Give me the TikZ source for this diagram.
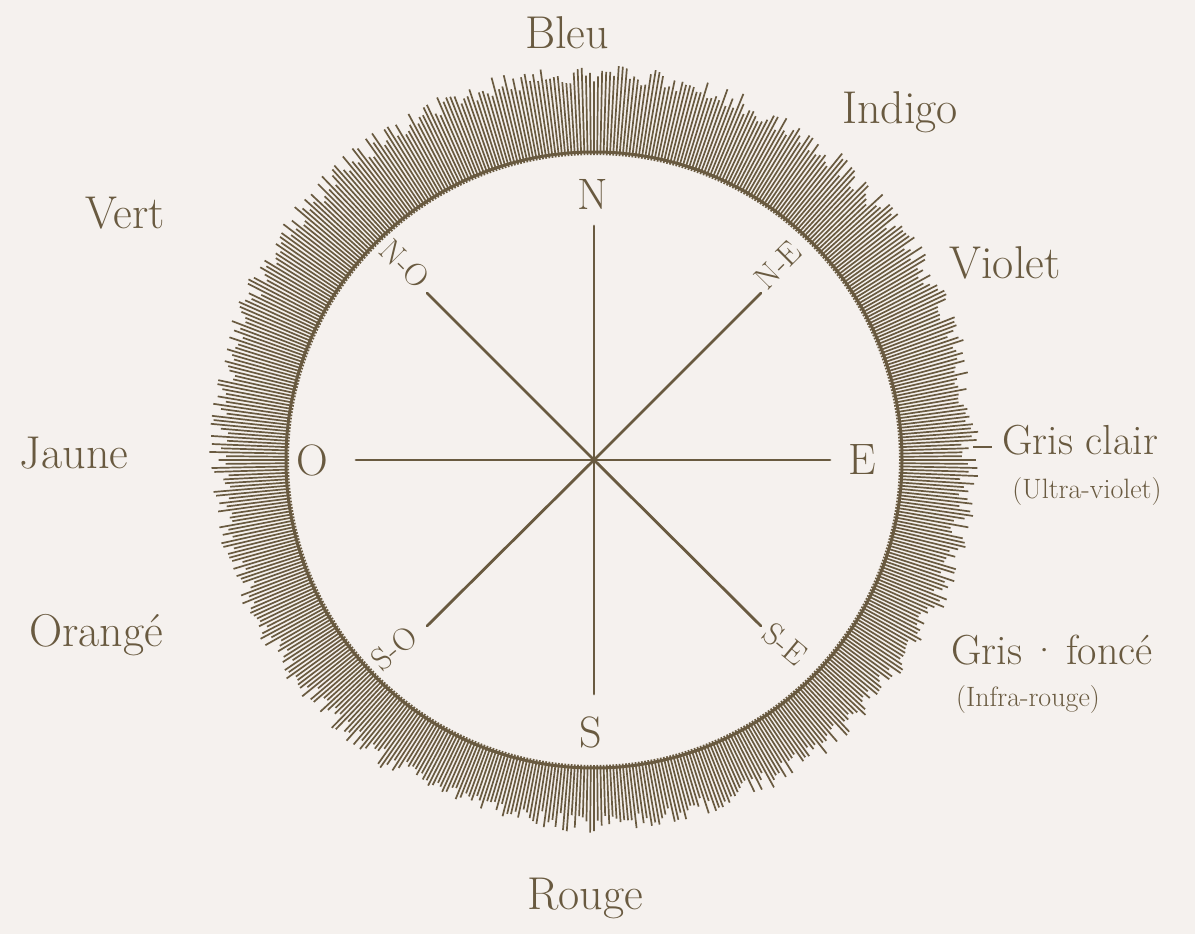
\documentclass[tikz,border=0pt]{standalone}
\usepackage{fontspec}
\definecolor{bg}{RGB}{245,241,238}
\definecolor{ink}{RGB}{105,90,64}
\begin{document}
\begin{tikzpicture}[x=1pt,y=-1pt,
  lab/.style={text=ink, font=\fontsize{46}{52}\selectfont, inner sep=0pt},
  labm/.style={text=ink, font=\fontsize{42}{48}\selectfont, inner sep=0pt},
  small/.style={text=ink, font=\fontsize{28}{32}\selectfont, inner sep=0pt},
  dirbig/.style={text=ink, font=\fontsize{44}{50}\selectfont, inner sep=0pt},
  dirsm/.style={text=ink, font=\fontsize{32}{38}\selectfont, inner sep=0pt},
  ray/.style={draw=ink, line width=2.8pt, line cap=round},
  hair/.style={draw=ink, line width=1.7pt},
  ringstyle/.style={circle, draw=ink, line width=3pt, minimum size=616pt, inner sep=0pt}]
\fill[bg] (0,0) rectangle (1195,934);
\useasboundingbox (0,0) rectangle (1195,934);

% fringe of radial hairs
\pgfmathsetseed{7}
\foreach \i in {0,...,599}{
  \pgfmathsetmacro\a{\i*0.6}
  \pgfmathsetmacro\L{60+12*sin(\a)+20*rnd}
  \draw[hair] ({594+305*cos(\a)},{460-305*sin(\a)}) -- ({594+(305+\L)*cos(\a)},{460-(305+\L)*sin(\a)});
}

\coordinate (c) at (594,460);
\node[ringstyle] (ring) at (c) {};

% rays
\coordinate (rN) at (594,226);
\coordinate (rS) at (594,694);
\coordinate (rE) at (830,460);
\coordinate (rO) at (356,460);
\coordinate (rNE) at (761,293);
\coordinate (rNO) at (427,293);
\coordinate (rSE) at (761,626);
\coordinate (rSO) at (427,626);
\foreach \r in {rN,rS,rE,rO,rNE,rNO,rSE,rSO}{\draw[ray] (c) -- (\r);}

% compass labels
\node[dirbig] (N) at (593,194) {N};
\node[dirbig] (S) at (591,732) {S};
\node[dirbig] (E) at (862,460) {E};
\node[dirbig] (O) at (312,460) {O};
\node[dirsm, rotate=-45] (NO) at (405,264) {N-O};
\node[dirsm, rotate=45] (NE) at (778,265) {N-E};
\node[dirsm, rotate=40] (SO) at (394,648) {S-O};
\node[dirsm, rotate=-40] (SE) at (785,644) {S-E};

% colour labels
\node[lab] (bleu) at (567,33) {Bleu};
\node[lab] (indigo) at (900,112) {Indigo};
\node[lab] (violet) at (1005,263) {Violet};
\node[labm, anchor=west] (grisclair) at (1002,440) {Gris clair};
\coordinate (tick) at (973,447);
\coordinate (tickend) at (992,447);
\draw[ink, line width=2pt] (tick) -- (tickend);
\node[small] (uv) at (1087,492) {(Ultra-violet)};
\node[labm] (grisfonce) at (1052,650) {Gris\,·\,foncé};
\node[small] (ir) at (1028,700) {(Infra-rouge)};
\node[lab] (rouge) at (585,898) {Rouge};
\node[lab] (orange) at (96,635) {Orangé};
\node[lab] (jaune) at (74,453) {Jaune};
\node[lab] (vert) at (125,213) {Vert};
\end{tikzpicture}
\end{document}
